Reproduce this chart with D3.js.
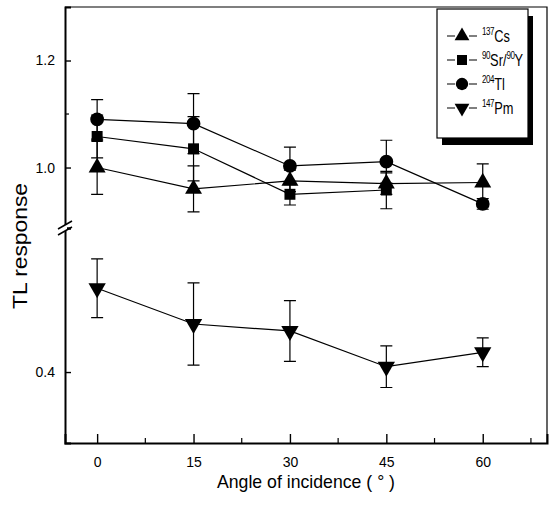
<!DOCTYPE html>
<html>
<head>
<meta charset="utf-8">
<script src="https://cdn.jsdelivr.net/npm/d3@7"></script>
<style>
  body { margin: 0; background: #fff; }
  svg { display: block; }
  text { font-family: "Liberation Sans Narrow", "Arial Narrow", "Liberation Sans", Arial, sans-serif; fill: #000; }
</style>
</head>
<body>
<svg class="chart" width="554" height="512"></svg>
<script>
// angle of incidence (degrees)
const angles = [0, 15, 30, 45, 60];

// TL response
const cs = [1.0, 0.96, 0.975, 0.97, 0.972];
const csErr = [0.05, 0.043, 0.02, 0.02, 0.035];
const sr = [1.058, 1.035, 0.95, 0.958];
const srErr = [0.04, 0.06, 0.02, 0.035];
const tl = [1.09, 1.082, 1.003, 1.011, 0.932];
const tlErr = [0.037, 0.056, 0.035, 0.04, 0.01];
const pm = [0.557, 0.49, 0.477, 0.41, 0.437];
const pmErr = [0.055, 0.077, 0.057, 0.039, 0.027];

const xTicks = [0, 15, 30, 45, 60];
const xMinor = [7.5, 22.5, 37.5, 52.5, 67.5];
const yUpTicks = [1.0, 1.2];
const yUpMinor = [1.1];
const yLowTicks = [0.4];

const svg = d3.select('.chart');

const plotLeft = 65, plotRight = 547, plotTop = 7, plotBottom = 443, breakY = 228;

const x = d3.scaleLinear().domain([-5, 70]).range([plotLeft, plotRight]);
const yUp = d3.scaleLinear().domain([0.887, 1.30]).range([breakY, plotTop]);
const yLow = d3.scaleLinear().domain([0.267, 0.67]).range([plotBottom, breakY]);

// frame (top and right)
svg.append('path')
    .attr('d', `M${plotLeft},${plotTop}H${plotRight}V${plotBottom}`)
    .attr('fill', 'none').attr('stroke', '#000').attr('stroke-width', 1.2);

// x axis
const xAxis = svg.append('g').attr('transform', `translate(0,${plotBottom})`);
xAxis.call(d3.axisBottom(x).tickValues(xTicks).tickSize(-9).tickPadding(14).tickFormat(d3.format('d')));
xAxis.append('g').selectAll('line').data(xMinor).enter().append('line')
    .attr('x1', d => x(d)).attr('x2', d => x(d)).attr('y1', 0).attr('y2', -5)
    .attr('stroke', '#000').attr('stroke-width', 1.2);

// upper y axis
const yUpAxis = svg.append('g').attr('transform', `translate(${plotLeft},0)`);
yUpAxis.call(d3.axisLeft(yUp).tickValues(yUpTicks).tickSize(-6).tickPadding(10).tickFormat(d3.format('.1f')));
yUpAxis.append('g').selectAll('line').data(yUpMinor).enter().append('line')
    .attr('x1', 0).attr('x2', 4).attr('y1', d => yUp(d)).attr('y2', d => yUp(d))
    .attr('stroke', '#000').attr('stroke-width', 1.2);

// lower y axis
const yLowAxis = svg.append('g').attr('transform', `translate(${plotLeft},0)`);
yLowAxis.call(d3.axisLeft(yLow).tickValues(yLowTicks).tickSize(-6).tickPadding(10).tickFormat(d3.format('.1f')));

[xAxis, yUpAxis, yLowAxis].forEach(g => {
    g.select('.domain').attr('stroke-width', 2);
    g.selectAll('.tick line').attr('stroke-width', 1.4);
    g.selectAll('.tick text').attr('font-size', 14);
});

// axis break marks
svg.append('rect').attr('x', plotLeft - 2).attr('y', breakY - 3).attr('width', 4).attr('height', 6).attr('fill', '#fff');
const brk = svg.append('g').attr('stroke', '#000').attr('stroke-width', 1.6);
[-3, 3].forEach(o => {
    brk.append('line')
        .attr('x1', plotLeft - 7).attr('y1', breakY + o + 4)
        .attr('x2', plotLeft + 7).attr('y2', breakY + o - 4);
});

// symbols
const sym = {
    up: d3.symbol().type(d3.symbolTriangle).size(125),
    square: d3.symbol().type(d3.symbolSquare).size(120),
    circle: d3.symbol().type(d3.symbolCircle).size(150),
    down: d3.symbol().type(d3.symbolTriangle).size(130)
};
const legSym = {
    up: d3.symbol().type(d3.symbolTriangle).size(95),
    square: d3.symbol().type(d3.symbolSquare).size(100),
    circle: d3.symbol().type(d3.symbolCircle).size(120),
    down: d3.symbol().type(d3.symbolTriangle).size(95)
};

const series = [
    { vals: cs, err: csErr, y: yUp, shape: 'up' },
    { vals: sr, err: srErr, y: yUp, shape: 'square' },
    { vals: tl, err: tlErr, y: yUp, shape: 'circle' },
    { vals: pm, err: pmErr, y: yLow, shape: 'down' }
];

series.forEach(s => {
    const pts = s.vals.map((v, i) => ({ a: angles[i], v: v, e: s.err[i] }));
    const g = svg.append('g');
    // error bars
    g.selectAll('.eb').data(pts).enter().append('path')
        .attr('fill', 'none').attr('stroke', '#000').attr('stroke-width', 1.2)
        .attr('d', d => {
            const cx = x(d.a), y1 = s.y(d.v + d.e), y2 = s.y(d.v - d.e);
            return `M${cx - 6},${y1}H${cx + 6}M${cx},${y1}V${y2}M${cx - 6},${y2}H${cx + 6}`;
        });
    g.append('path').datum(pts)
        .attr('fill', 'none').attr('stroke', '#000').attr('stroke-width', 1.2)
        .attr('d', d3.line().x(d => x(d.a)).y(d => s.y(d.v)));
    g.selectAll('.m').data(pts).enter().append('path')
        .attr('d', sym[s.shape]())
        .attr('transform', d => `translate(${x(d.a)},${s.y(d.v)})` + (s.shape === 'down' ? ' rotate(180)' : ''))
        .attr('fill', '#000');
});

// legend
const legendLabels = [
    [['137', true], ['Cs', false]],
    [['90', true], ['Sr/', false], ['90', true], ['Y', false]],
    [['204', true], ['Tl', false]],
    [['147', true], ['Pm', false]]
];
const lg = svg.append('g').attr('transform', 'translate(437,9)');
lg.append('rect').attr('x', 5).attr('y', 7).attr('width', 91).attr('height', 129).attr('fill', '#000');
lg.append('rect').attr('x', 0).attr('y', 0).attr('width', 91).attr('height', 129)
    .attr('fill', '#fff').attr('stroke', '#000').attr('stroke-width', 1.2);
const rowY = d3.scalePoint().domain(d3.range(4)).range([27, 99]);
legendLabels.forEach((lab, i) => {
    const row = lg.append('g').attr('transform', `translate(0,${rowY(i)})`);
    row.append('path').attr('d', 'M10,0H18M32,0H40').attr('stroke', '#000').attr('stroke-width', 1.2);
    row.append('path').attr('d', legSym[series[i].shape]())
        .attr('transform', 'translate(25,0)' + (series[i].shape === 'down' ? ' rotate(180)' : ''))
        .attr('fill', '#000');
    const t = row.append('text').attr('transform', 'translate(45,6) scale(0.8,1)').attr('font-size', 16);
    let prevSup = false;
    lab.forEach(([s, sup], j) => {
        const dy = j === 0 ? (sup ? -7 : 0) : (sup === prevSup ? 0 : (sup ? -7 : 7));
        t.append('tspan').text(s)
            .attr('font-size', sup ? 10 : 16)
            .attr('dy', dy)
            .attr('letter-spacing', sup ? -0.5 : 0);
        prevSup = sup;
    });
});

// axis titles
svg.append('text')
    .attr('x', (plotLeft + plotRight) / 2).attr('y', 488)
    .attr('text-anchor', 'middle').attr('font-size', 19)
    .attr('textLength', 178).attr('lengthAdjust', 'spacingAndGlyphs')
    .text('Angle of incidence ( ° )');
svg.append('text')
    .attr('transform', 'translate(27,246) rotate(-90)')
    .attr('text-anchor', 'middle').attr('font-size', 21)
    .attr('textLength', 126).attr('lengthAdjust', 'spacingAndGlyphs')
    .text('TL response');
</script>
</body>
</html>
